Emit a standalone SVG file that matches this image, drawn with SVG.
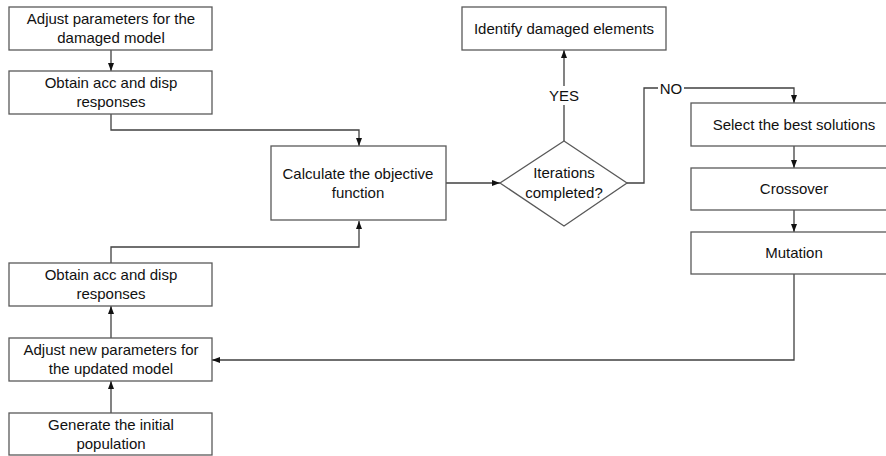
<svg xmlns="http://www.w3.org/2000/svg" width="886" height="456" viewBox="0 0 886 456">
<defs>
<style>
.box{fill:#fff;stroke:#595959;stroke-width:1.3}
.ln{fill:none;stroke:#404040;stroke-width:1.3}
text{font-family:"Liberation Sans",Arial,sans-serif;font-size:15px;fill:#111;text-anchor:middle}
.lbl{fill:#fff;stroke:none}
</style>
<marker id="ah" markerUnits="userSpaceOnUse" markerWidth="8" markerHeight="8" viewBox="0 0 8 8" refX="8" refY="4" orient="auto">
<path d="M0,1 L8,4 L0,7 z" fill="#111"/>
</marker>
</defs>
<rect width="886" height="456" fill="#fff"/>
<g id="connectors">
<line class="ln" x1="111" y1="50" x2="111" y2="71" marker-end="url(#ah)"/>
<polyline class="ln" points="111,114 111,130 359,130 359,146" marker-end="url(#ah)"/>
<polyline class="ln" points="111,263 111,247 359,247 359,221" marker-end="url(#ah)"/>
<line class="ln" x1="111" y1="338" x2="111" y2="306" marker-end="url(#ah)"/>
<line class="ln" x1="111" y1="413" x2="111" y2="381" marker-end="url(#ah)"/>
<line class="ln" x1="446" y1="183" x2="500" y2="183" marker-end="url(#ah)"/>
<line class="ln" x1="564" y1="141" x2="564" y2="50" marker-end="url(#ah)"/>
<polyline class="ln" points="627,183 644,183 644,88 794,88 794,103" marker-end="url(#ah)"/>
<line class="ln" x1="794" y1="146" x2="794" y2="168" marker-end="url(#ah)"/>
<line class="ln" x1="794" y1="210" x2="794" y2="232" marker-end="url(#ah)"/>
<polyline class="ln" points="794,274 794,360 212,360" marker-end="url(#ah)"/>
<rect class="lbl" x="548" y="86" width="32" height="19"/>
<text x="564" y="101">YES</text>
<rect class="lbl" x="658" y="80" width="26" height="17"/>
<text x="671" y="94">NO</text>
</g>
<g id="adjust-damaged">
<rect class="box" x="9" y="7" width="203" height="43"/>
<text x="111" y="24">Adjust parameters for the</text>
<text x="111" y="43">damaged model</text>
</g>
<g id="obtain-top">
<rect class="box" x="9" y="71" width="203" height="43"/>
<text x="111" y="88">Obtain acc and disp</text>
<text x="111" y="107">responses</text>
</g>
<g id="calc">
<rect class="box" x="271" y="146" width="175" height="74"/>
<text x="358" y="179">Calculate the objective</text>
<text x="358" y="198">function</text>
</g>
<g id="obtain-bottom">
<rect class="box" x="9" y="263" width="203" height="43"/>
<text x="111" y="280">Obtain acc and disp</text>
<text x="111" y="299">responses</text>
</g>
<g id="adjust-new">
<rect class="box" x="9" y="338" width="203" height="43"/>
<text x="111" y="355">Adjust new parameters for</text>
<text x="111" y="374">the updated model</text>
</g>
<g id="generate">
<rect class="box" x="9" y="413" width="203" height="42"/>
<text x="111" y="430">Generate the initial</text>
<text x="111" y="449">population</text>
</g>
<g id="decision">
<polygon class="box" points="564,141 627,183 564,226 500,183"/>
<text x="564" y="178">Iterations</text>
<text x="564" y="198">completed?</text>
</g>
<g id="identify">
<rect class="box" x="462" y="7" width="204" height="43"/>
<text x="564" y="34">Identify damaged elements</text>
</g>
<g id="select">
<rect class="box" x="691" y="103" width="206" height="43"/>
<text x="794" y="130">Select the best solutions</text>
</g>
<g id="crossover">
<rect class="box" x="691" y="168" width="206" height="42"/>
<text x="794" y="194">Crossover</text>
</g>
<g id="mutation">
<rect class="box" x="691" y="232" width="206" height="42"/>
<text x="794" y="258">Mutation</text>
</g>
</svg>
